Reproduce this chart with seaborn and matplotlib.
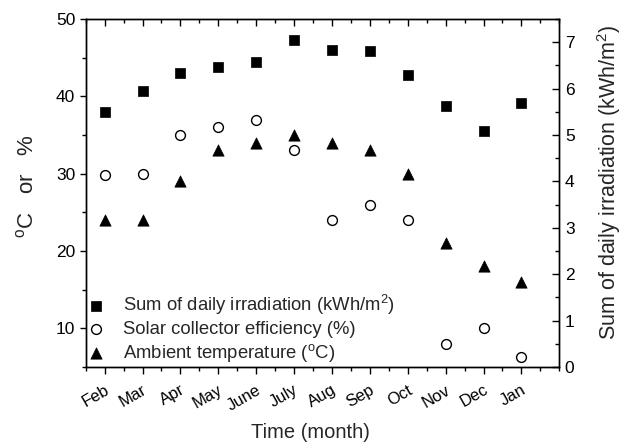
import matplotlib
matplotlib.use("Agg")
import matplotlib.pyplot as plt
from matplotlib.ticker import MultipleLocator, FixedLocator
from matplotlib.transforms import ScaledTranslation
import seaborn as sns
import numpy as np
import pandas as pd

# ---- data ----
months = ['Feb', 'Mar', 'Apr', 'May', 'June', 'July', 'Aug', 'Sep', 'Oct', 'Nov', 'Dec', 'Jan']
irradiation = [5.50, 5.94, 6.34, 6.46, 6.57, 7.04, 6.83, 6.80, 6.30, 5.63, 5.09, 5.70]   # kWh/m2 (right axis)
efficiency = [29.8, 30.0, 35.0, 36.0, 37.0, 33.0, 24.0, 26.0, 24.0, 8.0, 10.0, 6.3]      # %
temperature = [24, 24, 29, 33, 34, 35, 34, 33, 30, 21, 18, 16]                           # deg C

lab_irr = 'Sum of daily irradiation (kWh/m$^{2}$)'
lab_eff = 'Solar collector efficiency (%)'
lab_tmp = 'Ambient temperature ($^{\\mathrm{o}}$C)'

df = pd.DataFrame({'pos': np.arange(len(months)), 'month': months,
                   'irr': irradiation, 'eff': efficiency, 'tmp': temperature})

sns.set_style("ticks")
plt.rcParams['font.family'] = ['Liberation Sans', 'DejaVu Sans']
plt.rcParams['mathtext.fontset'] = 'custom'
plt.rcParams['mathtext.rm'] = 'Liberation Sans'
plt.rcParams['mathtext.it'] = 'Liberation Sans:italic'
plt.rcParams['mathtext.bf'] = 'Liberation Sans:bold'

fig = plt.figure(figsize=(6.25, 4.44), dpi=100)
ax = fig.add_axes([0.1371, 0.1734, 0.7578, 0.7838])
ax2 = ax.twinx()

sns.scatterplot(data=df, x='pos', y='eff', ax=ax, marker='o', s=50, color='white',
                edgecolor='black', linewidth=1.0, legend=False, label=lab_eff, zorder=3)
sns.scatterplot(data=df, x='pos', y='tmp', ax=ax, marker='^', s=66, color='black',
                edgecolor='black', linewidth=0.5, legend=False, label=lab_tmp, zorder=3)
sns.scatterplot(data=df, x='pos', y='irr', ax=ax2, marker='s', s=46, color='black',
                edgecolor='black', linewidth=0.5, legend=False, label=lab_irr, zorder=3)

# axes limits
ax.set_xlim(-0.5, 12)
ax.set_ylim(5, 50)
ax2.set_ylim(0, 7.5)

# ticks
ax.xaxis.set_major_locator(FixedLocator(df['pos'].tolist()))
ax.xaxis.set_minor_locator(MultipleLocator(0.5))
ax.set_xticklabels(months, rotation=30, ha='right', fontsize=12)
ax.yaxis.set_minor_locator(MultipleLocator(5))
ax.set_yticks([10, 20, 30, 40, 50])
ax2.yaxis.set_minor_locator(MultipleLocator(0.5))
ax2.set_yticks(range(0, 8))

ax.tick_params(axis='x', which='both', direction='out', bottom=True, top=False,
               labelsize=12, pad=6, color='black', labelcolor='black')
ax.tick_params(axis='x', which='major', length=5, width=1)
ax.tick_params(axis='x', which='minor', length=3, width=1)
ax.tick_params(axis='y', which='both', direction='out', left=True, right=False,
               labelsize=12.5, pad=3, color='black', labelcolor='black')
ax.tick_params(axis='y', which='major', length=4.5, width=1)
ax.tick_params(axis='y', which='minor', length=3, width=1)

# shift month labels slightly right, as in the reference
shift = ScaledTranslation(5 / 72, 0, fig.dpi_scale_trans)
for lbl in ax.get_xticklabels():
    lbl.set_transform(lbl.get_transform() + shift)

ax2.tick_params(axis='y', which='both', direction='in', right=True, left=False,
                labelsize=12.5, pad=4, color='black', labelcolor='black')
ax2.tick_params(axis='y', which='major', length=5, width=1)
ax2.tick_params(axis='y', which='minor', length=3, width=1)

# top ticks (inward) via the twin axis' x axis
ax2.xaxis.set_visible(True)
ax2.set_xlabel('')
ax2.tick_params(axis='x', which='both', direction='in', top=True, bottom=False,
                labeltop=False, labelbottom=False, color='black')
ax2.tick_params(axis='x', which='major', length=5, width=1)
ax2.tick_params(axis='x', which='minor', length=3, width=1)

for a in (ax, ax2):
    for sp in a.spines.values():
        sp.set_visible(True)
        sp.set_color('black')
        sp.set_linewidth(1.0)

# labels
ax.set_xlabel('Time (month)', fontsize=14.5)
ax.xaxis.set_label_coords(0.474, -0.16)
ax.set_ylabel('$^{\\mathrm{o}}$C   or   %', fontsize=16)
ax.yaxis.set_label_coords(-0.10, 0.52)
ax2.set_ylabel(lab_irr, fontsize=15.5)
ax2.yaxis.set_label_coords(1.075, 0.53)

# legend
h1, l1 = ax.get_legend_handles_labels()
h2, l2 = ax2.get_legend_handles_labels()
handles = h2 + h1
labels = l2 + l1
leg = ax2.legend(handles, labels, loc='lower left', bbox_to_anchor=(0.0, 0.0),
                 frameon=False, fontsize=13.3, handlelength=0.8, handletextpad=1.05,
                 labelspacing=0.22, borderaxespad=0.0, borderpad=0.15)

fig.savefig('out.png', dpi=100)
